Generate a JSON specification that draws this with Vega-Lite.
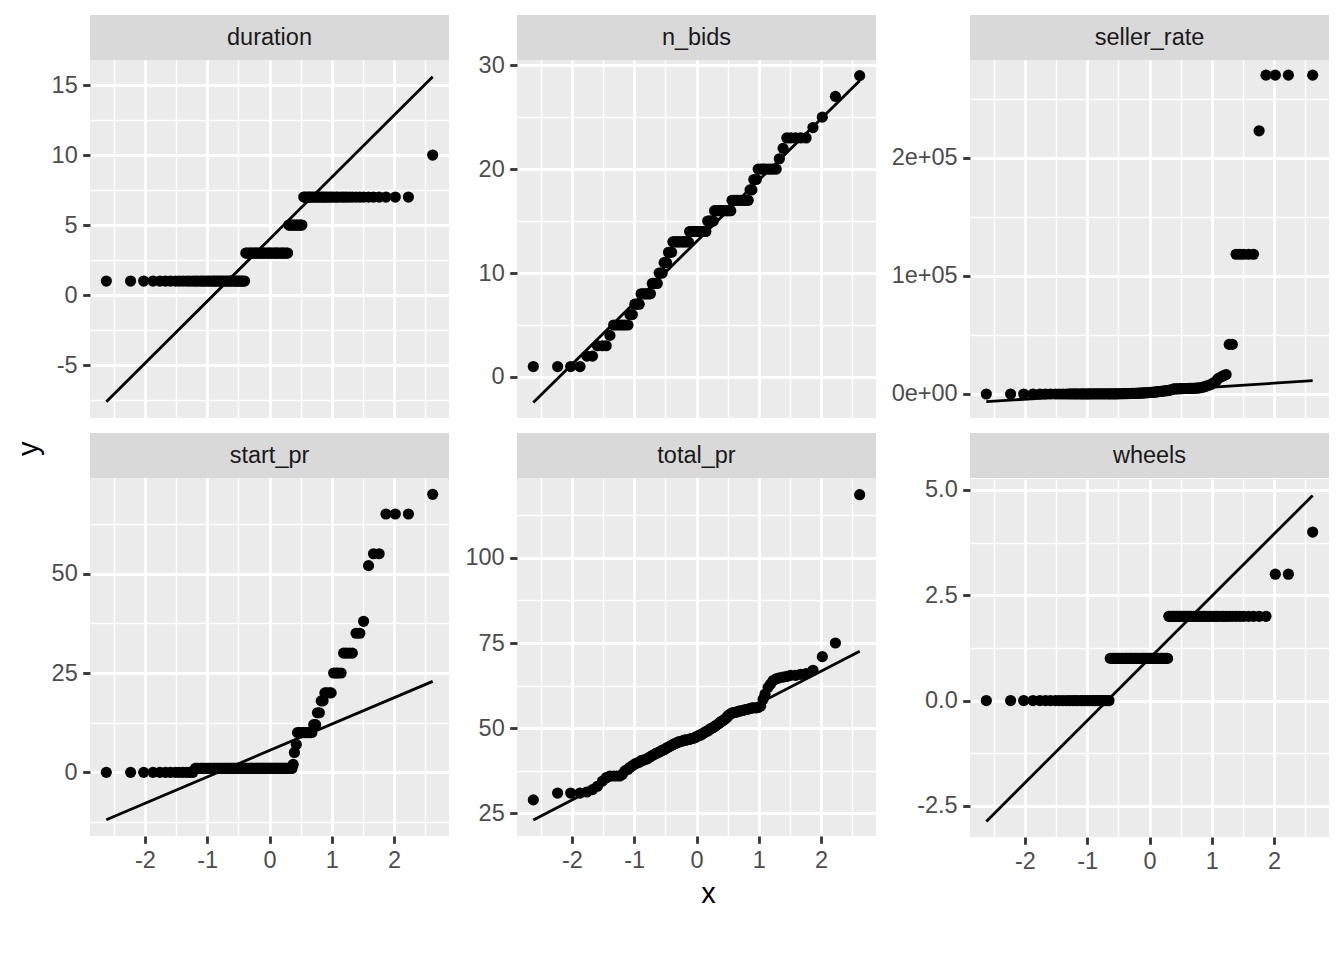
{
"$schema":"https://vega.github.io/schema/vega-lite/v6.json",
"background":"white",
"padding":{"left":15,"top":15,"right":15,"bottom":10},
"title":{"text":"y","orient":"left","anchor":"middle","fontSize":29,"font":"Liberation Sans","fontWeight":"normal","color":"black","offset":7,"dx":13},
"config":{"view":{"stroke":null},"font":"Liberation Sans",
"axis":{"domain":false,"gridColor":"white","tickColor":"#333333","tickSize":7.3,"tickWidth":2.8,"labelFont":"Liberation Sans","labelFontSize":23.5,"labelColor":"#4d4d4d","labelPadding":5.5,"labelOverlap":false,"labelFlush":false,"titleFont":"Liberation Sans","titleFontSize":29,"titleColor":"black","titleFontWeight":"normal"}},
"datasets":{
"qq":[
{"x":-2.62,"duration":1,"n_bids":1,"seller_rate":0,"start_pr":0.01,"total_pr":29,"wheels":0},
{"x":-2.23,"duration":1,"n_bids":1,"seller_rate":0,"start_pr":0.01,"total_pr":31,"wheels":0},
{"x":-2.02,"duration":1,"n_bids":1,"seller_rate":1,"start_pr":0.01,"total_pr":31,"wheels":0},
{"x":-1.87,"duration":1,"n_bids":1,"seller_rate":2,"start_pr":0.01,"total_pr":31,"wheels":0},
{"x":-1.76,"duration":1,"n_bids":2,"seller_rate":3,"start_pr":0.01,"total_pr":31.3,"wheels":0},
{"x":-1.67,"duration":1,"n_bids":2,"seller_rate":4,"start_pr":0.01,"total_pr":32,"wheels":0},
{"x":-1.59,"duration":1,"n_bids":3,"seller_rate":6,"start_pr":0.01,"total_pr":33,"wheels":0},
{"x":-1.51,"duration":1,"n_bids":3,"seller_rate":8,"start_pr":0.01,"total_pr":34.5,"wheels":0},
{"x":-1.45,"duration":1,"n_bids":3,"seller_rate":10,"start_pr":0.01,"total_pr":35.5,"wheels":0},
{"x":-1.39,"duration":1,"n_bids":4,"seller_rate":12,"start_pr":0.01,"total_pr":36,"wheels":0},
{"x":-1.33,"duration":1,"n_bids":5,"seller_rate":15,"start_pr":0.01,"total_pr":36,"wheels":0},
{"x":-1.28,"duration":1,"n_bids":5,"seller_rate":18,"start_pr":0.01,"total_pr":36,"wheels":0},
{"x":-1.23,"duration":1,"n_bids":5,"seller_rate":21,"start_pr":0.01,"total_pr":36,"wheels":0},
{"x":-1.19,"duration":1,"n_bids":5,"seller_rate":24,"start_pr":0.99,"total_pr":36.5,"wheels":0},
{"x":-1.15,"duration":1,"n_bids":5,"seller_rate":28,"start_pr":0.99,"total_pr":37.5,"wheels":0},
{"x":-1.10,"duration":1,"n_bids":5,"seller_rate":32,"start_pr":0.99,"total_pr":38,"wheels":0},
{"x":-1.07,"duration":1,"n_bids":6,"seller_rate":36,"start_pr":0.99,"total_pr":38.5,"wheels":0},
{"x":-1.03,"duration":1,"n_bids":6,"seller_rate":40,"start_pr":0.99,"total_pr":39,"wheels":0},
{"x":-0.99,"duration":1,"n_bids":7,"seller_rate":45,"start_pr":0.99,"total_pr":39.5,"wheels":0},
{"x":-0.96,"duration":1,"n_bids":7,"seller_rate":50,"start_pr":0.99,"total_pr":39.8,"wheels":0},
{"x":-0.92,"duration":1,"n_bids":7,"seller_rate":55,"start_pr":0.99,"total_pr":40,"wheels":0},
{"x":-0.89,"duration":1,"n_bids":8,"seller_rate":60,"start_pr":0.99,"total_pr":40.5,"wheels":0},
{"x":-0.86,"duration":1,"n_bids":8,"seller_rate":65,"start_pr":0.99,"total_pr":40.6,"wheels":0},
{"x":-0.83,"duration":1,"n_bids":8,"seller_rate":70,"start_pr":0.99,"total_pr":40.8,"wheels":0},
{"x":-0.80,"duration":1,"n_bids":8,"seller_rate":74,"start_pr":0.99,"total_pr":41,"wheels":0},
{"x":-0.77,"duration":1,"n_bids":8,"seller_rate":78,"start_pr":0.99,"total_pr":41.3,"wheels":0},
{"x":-0.74,"duration":1,"n_bids":8,"seller_rate":82,"start_pr":0.99,"total_pr":41.6,"wheels":0},
{"x":-0.71,"duration":1,"n_bids":9,"seller_rate":85,"start_pr":0.99,"total_pr":42,"wheels":0},
{"x":-0.68,"duration":1,"n_bids":9,"seller_rate":88,"start_pr":0.99,"total_pr":42.3,"wheels":0},
{"x":-0.65,"duration":1,"n_bids":9,"seller_rate":95,"start_pr":0.99,"total_pr":42.6,"wheels":0},
{"x":-0.63,"duration":1,"n_bids":9,"seller_rate":105,"start_pr":0.99,"total_pr":42.8,"wheels":1},
{"x":-0.60,"duration":1,"n_bids":10,"seller_rate":115,"start_pr":0.99,"total_pr":43,"wheels":1},
{"x":-0.57,"duration":1,"n_bids":10,"seller_rate":130,"start_pr":0.99,"total_pr":43.3,"wheels":1},
{"x":-0.55,"duration":1,"n_bids":10,"seller_rate":145,"start_pr":0.99,"total_pr":43.5,"wheels":1},
{"x":-0.52,"duration":1,"n_bids":11,"seller_rate":160,"start_pr":0.99,"total_pr":43.7,"wheels":1},
{"x":-0.50,"duration":1,"n_bids":11,"seller_rate":180,"start_pr":0.99,"total_pr":44,"wheels":1},
{"x":-0.48,"duration":1,"n_bids":11,"seller_rate":200,"start_pr":0.99,"total_pr":44.2,"wheels":1},
{"x":-0.45,"duration":1,"n_bids":12,"seller_rate":220,"start_pr":0.99,"total_pr":44.5,"wheels":1},
{"x":-0.43,"duration":1,"n_bids":12,"seller_rate":245,"start_pr":0.99,"total_pr":44.7,"wheels":1},
{"x":-0.40,"duration":1,"n_bids":12,"seller_rate":270,"start_pr":0.99,"total_pr":45,"wheels":1},
{"x":-0.38,"duration":3,"n_bids":13,"seller_rate":300,"start_pr":0.99,"total_pr":45.2,"wheels":1},
{"x":-0.36,"duration":3,"n_bids":13,"seller_rate":330,"start_pr":0.99,"total_pr":45.4,"wheels":1},
{"x":-0.33,"duration":3,"n_bids":13,"seller_rate":365,"start_pr":0.99,"total_pr":45.6,"wheels":1},
{"x":-0.31,"duration":3,"n_bids":13,"seller_rate":400,"start_pr":0.99,"total_pr":45.8,"wheels":1},
{"x":-0.29,"duration":3,"n_bids":13,"seller_rate":440,"start_pr":0.99,"total_pr":46,"wheels":1},
{"x":-0.27,"duration":3,"n_bids":13,"seller_rate":480,"start_pr":0.99,"total_pr":46,"wheels":1},
{"x":-0.24,"duration":3,"n_bids":13,"seller_rate":525,"start_pr":0.99,"total_pr":46.2,"wheels":1},
{"x":-0.22,"duration":3,"n_bids":13,"seller_rate":570,"start_pr":0.99,"total_pr":46.3,"wheels":1},
{"x":-0.20,"duration":3,"n_bids":13,"seller_rate":620,"start_pr":0.99,"total_pr":46.5,"wheels":1},
{"x":-0.18,"duration":3,"n_bids":13,"seller_rate":675,"start_pr":0.99,"total_pr":46.5,"wheels":1},
{"x":-0.15,"duration":3,"n_bids":13,"seller_rate":730,"start_pr":0.99,"total_pr":46.6,"wheels":1},
{"x":-0.13,"duration":3,"n_bids":13,"seller_rate":790,"start_pr":0.99,"total_pr":46.7,"wheels":1},
{"x":-0.11,"duration":3,"n_bids":14,"seller_rate":850,"start_pr":0.99,"total_pr":46.8,"wheels":1},
{"x":-0.09,"duration":3,"n_bids":14,"seller_rate":920,"start_pr":0.99,"total_pr":46.9,"wheels":1},
{"x":-0.07,"duration":3,"n_bids":14,"seller_rate":990,"start_pr":0.99,"total_pr":47,"wheels":1},
{"x":-0.04,"duration":3,"n_bids":14,"seller_rate":1070,"start_pr":0.99,"total_pr":47.1,"wheels":1},
{"x":-0.02,"duration":3,"n_bids":14,"seller_rate":1150,"start_pr":0.99,"total_pr":47.3,"wheels":1},
{"x":0,"duration":3,"n_bids":14,"seller_rate":1240,"start_pr":0.99,"total_pr":47.5,"wheels":1},
{"x":0.02,"duration":3,"n_bids":14,"seller_rate":1330,"start_pr":0.99,"total_pr":47.7,"wheels":1},
{"x":0.04,"duration":3,"n_bids":14,"seller_rate":1430,"start_pr":0.99,"total_pr":47.9,"wheels":1},
{"x":0.07,"duration":3,"n_bids":14,"seller_rate":1530,"start_pr":0.99,"total_pr":48,"wheels":1},
{"x":0.09,"duration":3,"n_bids":14,"seller_rate":1640,"start_pr":0.99,"total_pr":48.3,"wheels":1},
{"x":0.11,"duration":3,"n_bids":14,"seller_rate":1760,"start_pr":0.99,"total_pr":48.5,"wheels":1},
{"x":0.13,"duration":3,"n_bids":14,"seller_rate":1880,"start_pr":0.99,"total_pr":48.8,"wheels":1},
{"x":0.15,"duration":3,"n_bids":14,"seller_rate":2010,"start_pr":0.99,"total_pr":49,"wheels":1},
{"x":0.18,"duration":3,"n_bids":15,"seller_rate":2150,"start_pr":0.99,"total_pr":49.2,"wheels":1},
{"x":0.20,"duration":3,"n_bids":15,"seller_rate":2300,"start_pr":0.99,"total_pr":49.5,"wheels":1},
{"x":0.22,"duration":3,"n_bids":15,"seller_rate":2450,"start_pr":0.99,"total_pr":49.8,"wheels":1},
{"x":0.24,"duration":3,"n_bids":15,"seller_rate":2600,"start_pr":0.99,"total_pr":50,"wheels":1},
{"x":0.27,"duration":3,"n_bids":15,"seller_rate":2760,"start_pr":0.99,"total_pr":50.2,"wheels":1},
{"x":0.29,"duration":3,"n_bids":16,"seller_rate":2920,"start_pr":0.99,"total_pr":50.5,"wheels":1},
{"x":0.31,"duration":5,"n_bids":16,"seller_rate":3100,"start_pr":0.99,"total_pr":50.8,"wheels":2},
{"x":0.33,"duration":5,"n_bids":16,"seller_rate":3300,"start_pr":0.99,"total_pr":51,"wheels":2},
{"x":0.36,"duration":5,"n_bids":16,"seller_rate":3700,"start_pr":0.99,"total_pr":51.4,"wheels":2},
{"x":0.38,"duration":5,"n_bids":16,"seller_rate":4100,"start_pr":2,"total_pr":51.7,"wheels":2},
{"x":0.40,"duration":5,"n_bids":16,"seller_rate":4300,"start_pr":5,"total_pr":52,"wheels":2},
{"x":0.43,"duration":5,"n_bids":16,"seller_rate":4350,"start_pr":7,"total_pr":52.3,"wheels":2},
{"x":0.45,"duration":5,"n_bids":16,"seller_rate":4400,"start_pr":10,"total_pr":52.6,"wheels":2},
{"x":0.48,"duration":5,"n_bids":16,"seller_rate":4450,"start_pr":10,"total_pr":53,"wheels":2},
{"x":0.50,"duration":5,"n_bids":16,"seller_rate":4500,"start_pr":10,"total_pr":53.5,"wheels":2},
{"x":0.52,"duration":5,"n_bids":16,"seller_rate":4550,"start_pr":10,"total_pr":53.9,"wheels":2},
{"x":0.55,"duration":7,"n_bids":16,"seller_rate":4600,"start_pr":10,"total_pr":54.2,"wheels":2},
{"x":0.57,"duration":7,"n_bids":17,"seller_rate":4620,"start_pr":10,"total_pr":54.5,"wheels":2},
{"x":0.60,"duration":7,"n_bids":17,"seller_rate":4650,"start_pr":10,"total_pr":54.6,"wheels":2},
{"x":0.63,"duration":7,"n_bids":17,"seller_rate":4680,"start_pr":10,"total_pr":54.7,"wheels":2},
{"x":0.65,"duration":7,"n_bids":17,"seller_rate":4700,"start_pr":10,"total_pr":54.8,"wheels":2},
{"x":0.68,"duration":7,"n_bids":17,"seller_rate":4750,"start_pr":10,"total_pr":55,"wheels":2},
{"x":0.71,"duration":7,"n_bids":17,"seller_rate":4800,"start_pr":12,"total_pr":55.1,"wheels":2},
{"x":0.74,"duration":7,"n_bids":17,"seller_rate":4900,"start_pr":12,"total_pr":55.2,"wheels":2},
{"x":0.77,"duration":7,"n_bids":17,"seller_rate":5000,"start_pr":15,"total_pr":55.4,"wheels":2},
{"x":0.80,"duration":7,"n_bids":17,"seller_rate":5200,"start_pr":15,"total_pr":55.5,"wheels":2},
{"x":0.83,"duration":7,"n_bids":17,"seller_rate":5400,"start_pr":18,"total_pr":55.6,"wheels":2},
{"x":0.86,"duration":7,"n_bids":18,"seller_rate":5800,"start_pr":18,"total_pr":55.8,"wheels":2},
{"x":0.89,"duration":7,"n_bids":18,"seller_rate":6300,"start_pr":20,"total_pr":56,"wheels":2},
{"x":0.92,"duration":7,"n_bids":19,"seller_rate":6900,"start_pr":20,"total_pr":56,"wheels":2},
{"x":0.96,"duration":7,"n_bids":19,"seller_rate":7500,"start_pr":20,"total_pr":56,"wheels":2},
{"x":0.99,"duration":7,"n_bids":20,"seller_rate":8200,"start_pr":20,"total_pr":56.1,"wheels":2},
{"x":1.03,"duration":7,"n_bids":20,"seller_rate":9500,"start_pr":25,"total_pr":56.5,"wheels":2},
{"x":1.07,"duration":7,"n_bids":20,"seller_rate":11000,"start_pr":25,"total_pr":58.5,"wheels":2},
{"x":1.10,"duration":7,"n_bids":20,"seller_rate":13000,"start_pr":25,"total_pr":60,"wheels":2},
{"x":1.15,"duration":7,"n_bids":20,"seller_rate":14500,"start_pr":25,"total_pr":62,"wheels":2},
{"x":1.19,"duration":7,"n_bids":20,"seller_rate":15500,"start_pr":30,"total_pr":63,"wheels":2},
{"x":1.23,"duration":7,"n_bids":20,"seller_rate":16500,"start_pr":30,"total_pr":64,"wheels":2},
{"x":1.28,"duration":7,"n_bids":20,"seller_rate":42000,"start_pr":30,"total_pr":64.5,"wheels":2},
{"x":1.33,"duration":7,"n_bids":21,"seller_rate":42000,"start_pr":30,"total_pr":64.8,"wheels":2},
{"x":1.39,"duration":7,"n_bids":22,"seller_rate":118400,"start_pr":35,"total_pr":65,"wheels":2},
{"x":1.45,"duration":7,"n_bids":23,"seller_rate":118400,"start_pr":35,"total_pr":65.2,"wheels":2},
{"x":1.51,"duration":7,"n_bids":23,"seller_rate":118400,"start_pr":38,"total_pr":65.5,"wheels":2},
{"x":1.59,"duration":7,"n_bids":23,"seller_rate":118400,"start_pr":52,"total_pr":65.5,"wheels":2},
{"x":1.67,"duration":7,"n_bids":23,"seller_rate":118400,"start_pr":55,"total_pr":65.8,"wheels":2},
{"x":1.76,"duration":7,"n_bids":23,"seller_rate":223000,"start_pr":55,"total_pr":66,"wheels":2},
{"x":1.87,"duration":7,"n_bids":24,"seller_rate":270144,"start_pr":65,"total_pr":67,"wheels":2},
{"x":2.02,"duration":7,"n_bids":25,"seller_rate":270144,"start_pr":65,"total_pr":71,"wheels":3},
{"x":2.23,"duration":7,"n_bids":27,"seller_rate":270144,"start_pr":65,"total_pr":75,"wheels":3},
{"x":2.62,"duration":10,"n_bids":29,"seller_rate":270144,"start_pr":69.95,"total_pr":118.5,"wheels":4}
],
"qqline":[
{"x":-2.62,"duration":-7.62,"n_bids":-2.45,"seller_rate":-6525,"start_pr":-11.9,"total_pr":23.1,"wheels":-2.87},
{"x":2.62,"duration":15.6,"n_bids":28.5,"seller_rate":11271,"start_pr":22.9,"total_pr":72.6,"wheels":4.87}
]
},
"concat":[
 {"vconcat":[
  {"width":359,"height":45,"view":{"fill":"#d9d9d9","stroke":null},"data":{"values":[{"label":"duration"}]},"mark":{"type":"text","font":"Liberation Sans","fontSize":23.5,"color":"#1a1a1a","align":"center","baseline":"middle"},"encoding":{"text":{"field":"label"}}},
  {"width":359,"height":358,"view":{"fill":"#ebebeb","stroke":null},
   "encoding":{
    "x":{"field":"x","type":"quantitative","scale":{"domain":[-2.882,2.882],"nice":false,"zero":false},"axis":{"title":null,"labels":false,"ticks":false,"values":[-2.5,-2,-1.5,-1,-0.5,0,0.5,1,1.5,2,2.5],"gridWidth":{"condition":{"test":"datum.value % 1 === 0","value":2.8},"value":1.4}}},
    "y":{"field":"duration","type":"quantitative","scale":{"domain":[-8.78,16.79],"nice":false,"zero":false},"axis":{"title":null,"minExtent":39,"values":[-7.5,-5,-2.5,0,2.5,5,7.5,10,12.5,15],"labelExpr":"datum.value % 5 === 0 ? (datum.value < 0 ? '-' : '') + abs(datum.value) : ''","gridWidth":{"condition":{"test":"datum.value % 5 === 0","value":2.8},"value":1.4},"tickOpacity":{"condition":{"test":"datum.value % 5 === 0","value":1},"value":0}}}},
   "layer":[
    {"data":{"name":"qq"},"mark":{"type":"circle","size":125,"color":"black","opacity":1}},
    {"data":{"name":"qqline"},"mark":{"type":"line","color":"black","strokeWidth":2.8},"encoding":{}}
   ]}
 ],"spacing":0},
 {"vconcat":[
  {"width":359,"height":45,"view":{"fill":"#d9d9d9","stroke":null},"data":{"values":[{"label":"n_bids"}]},"mark":{"type":"text","font":"Liberation Sans","fontSize":23.5,"color":"#1a1a1a","align":"center","baseline":"middle"},"encoding":{"text":{"field":"label"}}},
  {"width":359,"height":358,"view":{"fill":"#ebebeb","stroke":null},
   "encoding":{
    "x":{"field":"x","type":"quantitative","scale":{"domain":[-2.882,2.882],"nice":false,"zero":false},"axis":{"title":null,"labels":false,"ticks":false,"values":[-2.5,-2,-1.5,-1,-0.5,0,0.5,1,1.5,2,2.5],"gridWidth":{"condition":{"test":"datum.value % 1 === 0","value":2.8},"value":1.4}}},
    "y":{"field":"n_bids","type":"quantitative","scale":{"domain":[-3.95,30.5],"nice":false,"zero":false},"axis":{"title":null,"minExtent":53,"values":[0,5,10,15,20,25,30],"labelExpr":"datum.value % 10 === 0 ? (datum.value < 0 ? '-' : '') + abs(datum.value) : ''","gridWidth":{"condition":{"test":"datum.value % 10 === 0","value":2.8},"value":1.4},"tickOpacity":{"condition":{"test":"datum.value % 10 === 0","value":1},"value":0}}}},
   "layer":[
    {"data":{"name":"qq"},"mark":{"type":"circle","size":125,"color":"black","opacity":1}},
    {"data":{"name":"qqline"},"mark":{"type":"line","color":"black","strokeWidth":2.8},"encoding":{}}
   ]}
 ],"spacing":-7},
 {"vconcat":[
  {"width":359,"height":45,"view":{"fill":"#d9d9d9","stroke":null},"data":{"values":[{"label":"seller_rate"}]},"mark":{"type":"text","font":"Liberation Sans","fontSize":23.5,"color":"#1a1a1a","align":"center","baseline":"middle"},"encoding":{"text":{"field":"label"}}},
  {"width":359,"height":358,"view":{"fill":"#ebebeb","stroke":null},
   "encoding":{
    "x":{"field":"x","type":"quantitative","scale":{"domain":[-2.882,2.882],"nice":false,"zero":false},"axis":{"title":null,"labels":false,"ticks":false,"values":[-2.5,-2,-1.5,-1,-0.5,0,0.5,1,1.5,2,2.5],"gridWidth":{"condition":{"test":"datum.value % 1 === 0","value":2.8},"value":1.4}}},
    "y":{"field":"seller_rate","type":"quantitative","scale":{"domain":[-20350,283000],"nice":false,"zero":false},"axis":{"title":null,"minExtent":79,"values":[0,50000,100000,150000,200000,250000],"labelExpr":"datum.value === 0 ? '0e+00' : datum.value === 100000 ? '1e+05' : datum.value === 200000 ? '2e+05' : ''","gridWidth":{"condition":{"test":"datum.value % 100000 === 0","value":2.8},"value":1.4},"tickOpacity":{"condition":{"test":"datum.value % 100000 === 0","value":1},"value":0}}}},
   "layer":[
    {"data":{"name":"qq"},"mark":{"type":"circle","size":125,"color":"black","opacity":1}},
    {"data":{"name":"qqline"},"mark":{"type":"line","color":"black","strokeWidth":2.8},"encoding":{}}
   ]}
 ],"spacing":0},
 {"vconcat":[
  {"width":359,"height":45,"view":{"fill":"#d9d9d9","stroke":null},"data":{"values":[{"label":"start_pr"}]},"mark":{"type":"text","font":"Liberation Sans","fontSize":23.5,"color":"#1a1a1a","align":"center","baseline":"middle"},"encoding":{"text":{"field":"label"}}},
  {"width":359,"height":358,"view":{"fill":"#ebebeb","stroke":null},
   "encoding":{
    "x":{"field":"x","type":"quantitative","scale":{"domain":[-2.882,2.882],"nice":false,"zero":false},"axis":{"title":null,"values":[-2.5,-2,-1.5,-1,-0.5,0,0.5,1,1.5,2,2.5],"labelExpr":"datum.value % 1 === 0 ? (datum.value < 0 ? '-' : '') + abs(datum.value) : ''","gridWidth":{"condition":{"test":"datum.value % 1 === 0","value":2.8},"value":1.4},"tickOpacity":{"condition":{"test":"datum.value % 1 === 0","value":1},"value":0}}},
    "y":{"field":"start_pr","type":"quantitative","scale":{"domain":[-16,74.05],"nice":false,"zero":false},"axis":{"title":null,"minExtent":39,"values":[-12.5,0,12.5,25,37.5,50,62.5],"labelExpr":"datum.value % 25 === 0 ? (datum.value < 0 ? '-' : '') + abs(datum.value) : ''","gridWidth":{"condition":{"test":"datum.value % 25 === 0","value":2.8},"value":1.4},"tickOpacity":{"condition":{"test":"datum.value % 25 === 0","value":1},"value":0}}}},
   "layer":[
    {"data":{"name":"qq"},"mark":{"type":"circle","size":125,"color":"black","opacity":1}},
    {"data":{"name":"qqline"},"mark":{"type":"line","color":"black","strokeWidth":2.8},"encoding":{}}
   ]}
 ],"spacing":0},
 {"vconcat":[
  {"width":359,"height":45,"view":{"fill":"#d9d9d9","stroke":null},"data":{"values":[{"label":"total_pr"}]},"mark":{"type":"text","font":"Liberation Sans","fontSize":23.5,"color":"#1a1a1a","align":"center","baseline":"middle"},"encoding":{"text":{"field":"label"}}},
  {"width":359,"height":358,"view":{"fill":"#ebebeb","stroke":null},
   "encoding":{
    "x":{"field":"x","type":"quantitative","scale":{"domain":[-2.882,2.882],"nice":false,"zero":false},"axis":{"title":"x","titleX":191,"titlePadding":7,"values":[-2.5,-2,-1.5,-1,-0.5,0,0.5,1,1.5,2,2.5],"labelExpr":"datum.value % 1 === 0 ? (datum.value < 0 ? '-' : '') + abs(datum.value) : ''","gridWidth":{"condition":{"test":"datum.value % 1 === 0","value":2.8},"value":1.4},"tickOpacity":{"condition":{"test":"datum.value % 1 === 0","value":1},"value":0}}},
    "y":{"field":"total_pr","type":"quantitative","scale":{"domain":[18.4,123.4],"nice":false,"zero":false},"axis":{"title":null,"minExtent":53,"values":[25,37.5,50,62.5,75,87.5,100,112.5],"labelExpr":"datum.value % 25 === 0 ? (datum.value < 0 ? '-' : '') + abs(datum.value) : ''","gridWidth":{"condition":{"test":"datum.value % 25 === 0","value":2.8},"value":1.4},"tickOpacity":{"condition":{"test":"datum.value % 25 === 0","value":1},"value":0}}}},
   "layer":[
    {"data":{"name":"qq"},"mark":{"type":"circle","size":125,"color":"black","opacity":1}},
    {"data":{"name":"qqline"},"mark":{"type":"line","color":"black","strokeWidth":2.8},"encoding":{}}
   ]}
 ],"spacing":0},
 {"vconcat":[
  {"width":359,"height":45,"view":{"fill":"#d9d9d9","stroke":null},"data":{"values":[{"label":"wheels"}]},"mark":{"type":"text","font":"Liberation Sans","fontSize":23.5,"color":"#1a1a1a","align":"center","baseline":"middle"},"encoding":{"text":{"field":"label"}}},
  {"width":359,"height":358,"view":{"fill":"#ebebeb","stroke":null},
   "encoding":{
    "x":{"field":"x","type":"quantitative","scale":{"domain":[-2.882,2.882],"nice":false,"zero":false},"axis":{"title":null,"values":[-2.5,-2,-1.5,-1,-0.5,0,0.5,1,1.5,2,2.5],"labelExpr":"datum.value % 1 === 0 ? (datum.value < 0 ? '-' : '') + abs(datum.value) : ''","gridWidth":{"condition":{"test":"datum.value % 1 === 0","value":2.8},"value":1.4},"tickOpacity":{"condition":{"test":"datum.value % 1 === 0","value":1},"value":0}}},
    "y":{"field":"wheels","type":"quantitative","scale":{"domain":[-3.24,5.26],"nice":false,"zero":false},"axis":{"title":null,"minExtent":79,"values":[-2.5,-1.25,0,1.25,2.5,3.75,5],"labelExpr":"datum.value % 2.5 === 0 ? (datum.value < 0 ? '-' : '') + format(abs(datum.value), '.1f') : ''","gridWidth":{"condition":{"test":"datum.value % 2.5 === 0","value":2.8},"value":1.4},"tickOpacity":{"condition":{"test":"datum.value % 2.5 === 0","value":1},"value":0}}}},
   "layer":[
    {"data":{"name":"qq"},"mark":{"type":"circle","size":125,"color":"black","opacity":1}},
    {"data":{"name":"qqline"},"mark":{"type":"line","color":"black","strokeWidth":2.8},"encoding":{}}
   ]}
 ],"spacing":-1}
],
"columns":3,
"spacing":{"row":15,"column":15},
"align":"each"
}
